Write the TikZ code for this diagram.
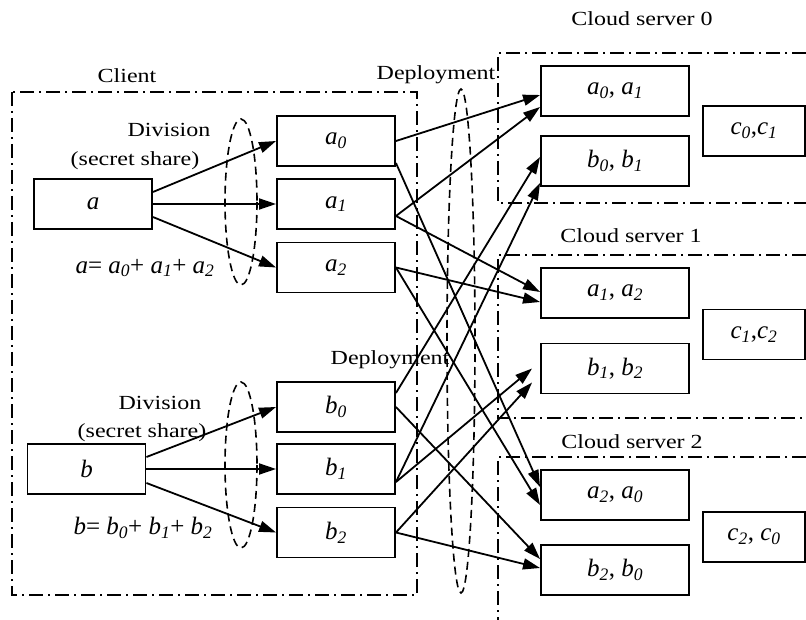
\documentclass[tikz,border=0pt]{standalone}
\usepackage{fontspec}
\setmainfont{Liberation Serif}[FakeStretch=1.2]
\newfontfamily\lblfont{Liberation Serif}
\usetikzlibrary{arrows.meta}
\newcommand{\shr}[2]{\textit{#1}\textsubscript{\textit{#2}}}

\begin{document}
\begin{tikzpicture}[
  x=1pt, y=-1pt, font=\fontsize{20}{24}\selectfont,
  lbl/.style ={font=\lblfont\fontsize{25}{28}\selectfont},
  box/.style ={lbl, draw, line width=1.9pt, inner sep=0pt,
               minimum width=118pt, minimum height=50pt},
  srv/.style ={box, minimum width=148pt},
  res/.style ={box, minimum width=102pt},
  zone/.style={line width=1.7pt, dash pattern=on 14pt off 5pt on 2pt off 5pt},
  ring/.style={line width=1.6pt, dash pattern=on 8pt off 5pt},
  arr/.style ={-{Triangle[length=17pt,width=11pt]}, line width=1.8pt},
]
\useasboundingbox (0,0) rectangle (806,620);

% frames: client on the left, one per cloud server on the right
% columns: 12..417 / 498..806    rows: 53..203 / 255..418 / 457..
\draw[zone] (12,92) rectangle (417,595);
\draw[zone] (806,53)  -| (498,203) -- (806,203);
\draw[zone] (806,255) -| (498,418) -- (806,418);
\draw[zone] (806,457) -| (498,620);

\draw[ring] (241,202) ellipse [x radius=16, y radius=83];
\draw[ring] (241,465) ellipse [x radius=16, y radius=83];
\draw[ring] (461,341) ellipse [x radius=14, y radius=252];

\node (client) at (127,76)  {Client};
\node (cs0)    at (642,19)  {Cloud server 0};
\node (cs1)    at (631,236) {Cloud server 1};
\node (cs2)    at (632,442) {Cloud server 2};
\node (dep0)   at (436,75)  {Deployment};
\node (dep1)   at (390,360) {Deployment};

\node (diva)  at (169,130) {Division};
\node (seca)  at (135,161) {(secret share)};
\node[lbl] (suma) at (145,268) {\textit{a}= \shr{a}{0}+ \shr{a}{1}+ \shr{a}{2}};
\node (divb)  at (160,403) {Division};
\node (secb)  at (142,433) {(secret share)};
\node[lbl] (sumb) at (143,528) {\textit{b}= \shr{b}{0}+ \shr{b}{1}+ \shr{b}{2}};

% client side
\node[box] (a)  at (93,204)    {\textit{a}};
\node[box] (a0) at (336,141)   {\shr{a}{0}};
\node[box] (a1) at (336,204)   {\shr{a}{1}};
\node[box] (a2) at (336,267.5) {\shr{a}{2}};
\node[box] (b)  at (86.5,469)  {\textit{b}};
\node[box] (b0) at (336,407)   {\shr{b}{0}};
\node[box] (b1) at (336,469)   {\shr{b}{1}};
\node[box] (b2) at (336,532.5) {\shr{b}{2}};

% cloud servers
\node[srv] (s0a) at (615,91)    {\shr{a}{0}, \shr{a}{1}};
\node[srv] (s0b) at (615,161)   {\shr{b}{0}, \shr{b}{1}};
\node[srv] (s1a) at (615,293)   {\shr{a}{1}, \shr{a}{2}};
\node[srv] (s1b) at (615,368.5) {\shr{b}{1}, \shr{b}{2}};
\node[srv] (s2a) at (615,495)   {\shr{a}{2}, \shr{a}{0}};
\node[srv] (s2b) at (615,570)   {\shr{b}{2}, \shr{b}{0}};
\node[res] (s0c) at (754,131)   {\shr{c}{0},\shr{c}{1}};
\node[res] (s1c) at (754,334.5) {\shr{c}{1},\shr{c}{2}};
\node[res] (s2c) at (754,537)   {\shr{c}{2}, \shr{c}{0}};

% ----- division into shares ---------------------------------------------
\draw[arr] ([yshift=12pt]a.east)  -- (a0.west);
\draw[arr] (a.east)               -- (a1.west);
\draw[arr] ([yshift=-13pt]a.east) -- (a2.west);
\draw[arr] ([yshift=12pt]b.east)  -- (b0.west);
\draw[arr] (b.east)               -- (b1.west);
\draw[arr] ([yshift=-14pt]b.east) -- (b2.west);

% ----- deployment of the shares a ---------------------------------------
\draw[arr] (a0.east)               -- ([yshift=-4pt]s0a.west);
\draw[arr] ([yshift=-22pt]a0.east) -- ([yshift=8pt]s2a.west);
\draw[arr] ([yshift=-12pt]a1.east) -- ([yshift=-16pt]s0a.west);
\draw[arr] ([yshift=-12pt]a1.east) -- ([yshift=1pt]s1a.west);
\draw[arr] (a2.east)               -- ([yshift=-9pt]s1a.west);
\draw[arr] (a2.east)               -- ([yshift=-10pt]s2a.west);

% ----- deployment of the shares b ---------------------------------------
\draw[arr] ([yshift=14pt]b0.east)  -- ([yshift=4pt]s0b.west);
\draw[arr] (b0.east)               -- ([yshift=11pt]s2b.west);
\draw[arr] ([yshift=-13pt]b1.east) -- ([yshift=-22pt]s0b.west);
\draw[arr] ([yshift=-13pt]b1.east) -- ([xshift=-8pt]s1b.west);
\draw[arr] (b2.east)               -- ([xshift=-8pt,yshift=-14pt]s1b.west);
\draw[arr] (b2.east)               -- ([yshift=2pt]s2b.west);

\end{tikzpicture}
\end{document}
